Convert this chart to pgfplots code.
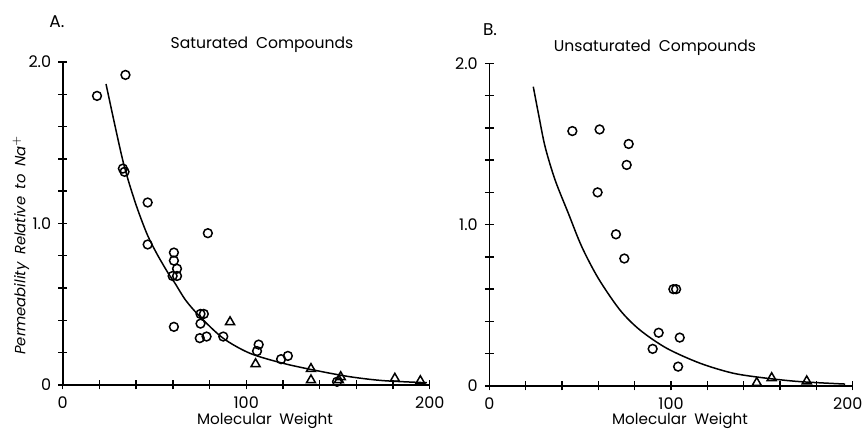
\documentclass[border=0pt]{standalone}
\usepackage{fontspec}
\setmainfont{Poppins}
\usepackage{pgfplots}
\pgfplotsset{compat=1.18}

% panels share one look
\pgfplotsset{panel/.style={
    scale only axis,
    xmin=0, xmax=200, ymin=0, ymax=2.0,
    axis lines=left,
    axis line style={-, line width=0.8pt},
    xtick={0,100,200},
    minor xtick={20,40,60,80,120,140,160,180},
    ytick={0,1,2},
    yticklabels={0,1.0,2.0},
    minor ytick={0.2,0.4,0.6,0.8,1.2,1.4,1.6,1.8},
    tick align=center,
    major tick length=4.5pt, minor tick length=4.5pt,
    tick style={black, line width=0.7pt},
    tick label style={font=\fontsize{8}{10}\selectfont},
    /pgf/number format/assume math mode=true,
    clip=false,
  },
  circ/.style={only marks, mark=o, mark size=2.2pt, black, mark options={line width=0.75pt}},
  tri/.style={only marks, mark=triangle, mark size=2.6pt, black, mark options={line width=0.75pt}},
  fit/.style={no marks, smooth, black, line width=0.75pt},
}

\begin{document}
\begin{tikzpicture}
\useasboundingbox (0,0) rectangle (432.5pt,215.5pt);

% ---- A: saturated
\begin{axis}[panel, at={(31.35pt,23pt)}, anchor=south west,
    width=183.5pt, height=161.5pt]
  \addplot[fit] coordinates {
    (23.6,1.864) (32.7,1.393) (39.4,1.135) (45.8,0.939) (51.2,0.815)
    (57.5,0.692) (61.2,0.630) (67,0.525) (74.8,0.423) (87.5,0.289)
    (102.1,0.196) (120.2,0.134) (138.4,0.089) (156.6,0.051)
    (174.7,0.027) (198.4,0.014)};
  \addplot[circ] coordinates {
    (18.7,1.79) (34.2,1.92) (32.8,1.34) (33.7,1.32) (46.3,1.13)
    (46.3,0.87) (60.6,0.82) (60.6,0.77) (62.3,0.72) (59.9,0.675)
    (62.3,0.675) (79.1,0.94) (60.6,0.36) (75.1,0.44) (76.9,0.44)
    (75.1,0.38) (74.7,0.29) (78.4,0.30) (87.5,0.30) (106.8,0.25)
    (105.9,0.21) (119,0.16) (122.7,0.18) (149.5,0.02)};
  \addplot[tri] coordinates {
    (91.2,0.39) (105.1,0.13) (135.3,0.10) (135.3,0.03) (150.5,0.03)
    (151.5,0.05) (181,0.04) (194.9,0.025)};
\end{axis}

% ---- B: unsaturated
\begin{axis}[panel, at={(244.65pt,22.5pt)}, anchor=south west,
    width=181.7pt, height=161.35pt,
    xticklabels={0,100,{\hspace*{-5pt}200}}]
  \addplot[fit] coordinates {
    (24.2,1.855) (27,1.69) (30.7,1.483) (36.2,1.277) (43.5,1.07)
    (50.9,0.863) (60,0.667) (71.9,0.471) (82.9,0.347) (97.6,0.234)
    (116,0.141) (134.3,0.079) (152.7,0.048) (171,0.027) (195.8,0.012)};
  \addplot[circ] coordinates {
    (45.7,1.58) (60.7,1.59) (76.7,1.50) (75.6,1.37) (59.6,1.20)
    (69.7,0.94) (74.3,0.79) (101.3,0.60) (102.8,0.60) (93.2,0.33)
    (104.8,0.30) (89.9,0.23) (103.9,0.12)};
  \addplot[tri] coordinates {
    (147.2,0.02) (155.4,0.05) (174.7,0.03)};
\end{axis}

% ---- labels
\node[font=\fontsize{8.5}{10}\selectfont] at (28.5pt,204.5pt) {A.};
\node[font=\fontsize{8.5}{10}\selectfont] at (245pt,200.5pt) {B.};
\node[font=\fontsize{7.8}{10}\selectfont] at (131pt,193pt) {Saturated\enspace Compounds};
\node[font=\fontsize{7.8}{10}\selectfont] at (327.5pt,191.5pt) {Unsaturated\enspace Compounds};
\node[font=\fontsize{7.6}{10}\selectfont] at (132.5pt,5pt) {Molecular\enspace Weight};
\node[font=\fontsize{7.6}{10}\selectfont] at (340pt,5pt) {Molecular\enspace Weight};
\node[font=\fontsize{7.4}{10}\selectfont\itshape, rotate=90] at (10.5pt,93pt)
  {Permeability\enspace Relative\enspace to\enspace Na$^{+}$};
\end{tikzpicture}
\end{document}
